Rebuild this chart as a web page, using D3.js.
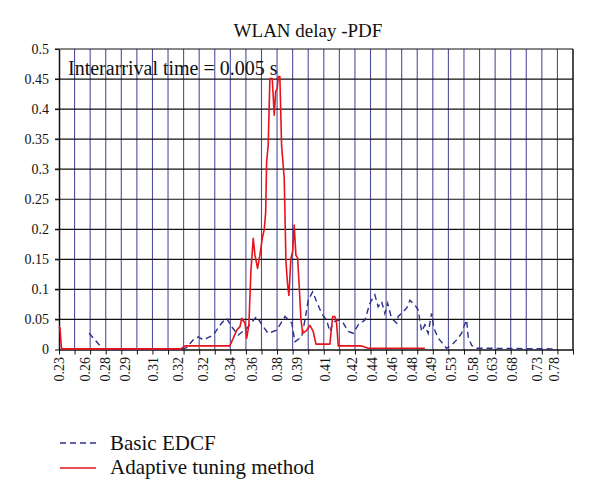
<!DOCTYPE html>
<html><head><meta charset="utf-8">
<script src="https://cdn.jsdelivr.net/npm/d3@7"></script>
<style>body{margin:0;background:#fff}svg{display:block}</style>
</head><body><svg id="c" width="600" height="503"></svg>
<script>
// category position (grid units) and PDF values
const basicPos = [1.93,2.31,2.84,7.77,8.2,8.62,8.94,9.26,9.9,10.44,10.76,11.08,11.51,12.05,12.69,13.11,13.43,13.97,14.51,14.94,15.15,15.58,15.79,16.0,16.28,16.54,16.86,17.18,17.39,17.61,17.93,18.25,18.57,18.89,19.21,19.64,19.96,20.28,20.49,20.71,20.92,21.1,21.35,21.68,21.78,22.1,22.32,22.53,22.85,23.06,23.28,23.49,23.7,23.92,24.07,24.35,24.88,25.2,25.53,25.85,25.99,26.17,26.27,26.49,26.81,27.66,31.94];
const basicVal = [0.027,0.016,0.0,0.0,0.003,0.016,0.021,0.016,0.024,0.044,0.052,0.038,0.024,0.035,0.055,0.038,0.027,0.032,0.055,0.044,0.013,0.021,0.049,0.082,0.096,0.08,0.06,0.049,0.03,0.046,0.049,0.044,0.03,0.027,0.041,0.049,0.077,0.091,0.071,0.08,0.06,0.077,0.052,0.044,0.055,0.063,0.069,0.082,0.074,0.066,0.03,0.041,0.027,0.06,0.035,0.019,0.002,0.007,0.016,0.027,0.038,0.049,0.021,0.007,0.002,0.002,0.001];
const adaptPos = [0,0.06,0.16,7.83,8.09,10.97,11.41,11.62,11.73,11.94,12.05,12.19,12.32,12.47,12.58,12.75,12.9,13.05,13.18,13.27,13.33,13.43,13.54,13.69,13.82,13.91,14.01,14.08,14.18,14.29,14.46,14.57,14.68,14.76,14.89,15.0,15.1,15.21,15.32,15.42,15.53,15.64,15.9,16.11,16.32,16.5,17.39,17.57,17.71,17.82,17.93,19.43,19.85,23.49];
const adaptVal = [0.038,0.036,0.001,0.001,0.006,0.006,0.032,0.038,0.052,0.044,0.019,0.04,0.13,0.185,0.157,0.135,0.157,0.185,0.2,0.229,0.312,0.34,0.451,0.451,0.39,0.429,0.434,0.454,0.454,0.34,0.285,0.146,0.107,0.09,0.152,0.163,0.207,0.157,0.152,0.107,0.052,0.027,0.032,0.04,0.03,0.009,0.009,0.055,0.055,0.044,0.006,0.006,0.002,0.002];
const xLabels = ["0.23","0.26","0.28","0.29","0.31","0.32","0.32","0.34","0.36","0.38","0.39","0.41","0.42","0.44","0.46","0.48","0.49","0.53","0.58","0.63","0.68","0.73","0.78"];
const xLabelPos = [0,1.67,2.95,4.24,6.03,7.64,9.24,10.98,12.39,13.99,15.28,17.07,18.8,20.1,21.4,22.7,23.9,25.2,26.6,27.8,29.1,30.7,31.8];
const yTicks = [0,0.05,0.1,0.15,0.2,0.25,0.3,0.35,0.4,0.45,0.5];
const nGrid = 33;
const title = "WLAN delay -PDF";
const note = "Interarrival time = 0.005 s";
const seriesNames = ["Basic EDCF","Adaptive tuning method"];

const FONT = "Liberation Serif";
const svg = d3.select("#c");
const L=59,R=573,T=49,B=349.5;
const x = d3.scaleLinear().domain([0,nGrid]).range([L,R]);
const y = d3.scaleLinear().domain([0,0.5]).range([B,T]);

// vertical grid
svg.append("g").selectAll("line").data(d3.range(1,nGrid)).join("line")
  .attr("x1",d=>x(d)).attr("x2",d=>x(d)).attr("y1",T).attr("y2",B)
  .attr("stroke","#4f4fa0").attr("stroke-width",1.1);
// horizontal grid
svg.append("g").selectAll("line").data(yTicks.slice(1)).join("line")
  .attr("x1",L-4).attr("x2",R).attr("y1",d=>y(d)).attr("y2",d=>y(d))
  .attr("stroke","#111").attr("stroke-width",1.2);
// right border
svg.append("line").attr("x1",R).attr("x2",R).attr("y1",T).attr("y2",B).attr("stroke","#111").attr("stroke-width",1.5);
// axes
const xa = svg.append("g").attr("transform",`translate(0,${B})`)
  .call(d3.axisBottom(x).tickValues(d3.range(0,nGrid+1)).tickFormat("").tickSize(5).tickSizeOuter(0));
xa.select(".domain").attr("stroke","#111").attr("stroke-width",1.5);
xa.selectAll(".tick line").attr("stroke","#111");
const ya = svg.append("g").attr("transform",`translate(${L},0)`)
  .call(d3.axisLeft(y).tickValues(yTicks).tickFormat(d=>d3.format("")(d)).tickSize(4).tickSizeOuter(0));
ya.attr("font-family",null).attr("font-size",null);
ya.select(".domain").attr("stroke","#111").attr("stroke-width",1.5);
ya.selectAll(".tick line").attr("stroke","#111");
ya.selectAll(".tick text").attr("x",-10).attr("fill","#111")
  .style("font-family",FONT).style("font-size","14px");

// x labels
svg.append("g").selectAll("text").data(xLabels).join("text")
  .attr("transform",(d,i)=>`translate(${x(xLabelPos[i])},357) rotate(-90)`)
  .attr("text-anchor","end").attr("dy","0.35em").attr("fill","#111")
  .style("font-family",FONT).style("font-size","14px").text(d=>d);

// lines
const line = d3.line().x(d=>x(d[0])).y(d=>y(d[1]));
const basic = basicPos.map((p,i)=>[p,basicVal[i]]);
const adapt = adaptPos.map((p,i)=>[p,adaptVal[i]]);
svg.append("path").datum(basic).attr("d",line).attr("fill","none")
  .attr("stroke","#2e2e8c").attr("stroke-width",1.4).attr("stroke-dasharray","6,4");
svg.append("path").datum(adapt).attr("d",line).attr("fill","none")
  .attr("stroke","#e8121a").attr("stroke-width",1.6).attr("stroke-linejoin","round");

// title & note
svg.append("text").attr("x",308).attr("y",37).attr("text-anchor","middle").attr("fill","#111")
  .style("font-family",FONT).style("font-size","19px").text(title);
svg.append("text").attr("x",68).attr("y",75).attr("fill","#111")
  .style("font-family",FONT).style("font-size","20px").text(note);

// legend
svg.append("line").attr("x1",60).attr("x2",96).attr("y1",443).attr("y2",443)
  .attr("stroke","#2e2e8c").attr("stroke-width",1.4).attr("stroke-dasharray","6,4");
svg.append("line").attr("x1",60).attr("x2",96).attr("y1",468).attr("y2",468)
  .attr("stroke","#e8121a").attr("stroke-width",1.6);
svg.append("text").attr("x",110).attr("y",450).attr("fill","#111")
  .style("font-family",FONT).style("font-size","21px").text(seriesNames[0]);
svg.append("text").attr("x",110).attr("y",474).attr("fill","#111")
  .style("font-family",FONT).style("font-size","21px").text(seriesNames[1]);
</script></body></html>
